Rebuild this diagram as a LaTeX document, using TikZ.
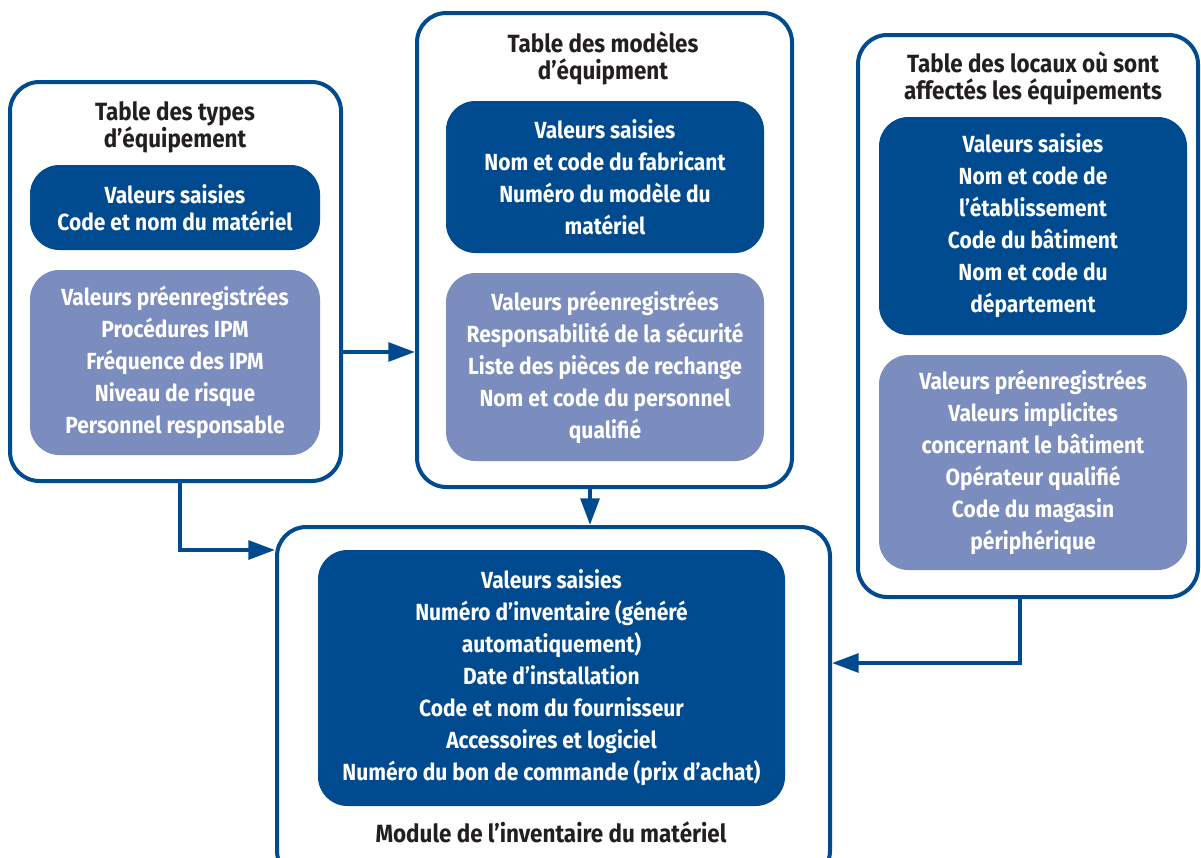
\documentclass[tikz,border=0pt]{standalone}
\usepackage{fontspec}
\setmainfont{Fira Sans}[FakeStretch=0.9]
\usetikzlibrary{arrows.meta}
\definecolor{darkblue}{RGB}{0,74,143}
\definecolor{lightblue}{RGB}{123,141,191}
\definecolor{titlegray}{RGB}{35,31,32}
\tikzset{
  outerbox/.style={draw=darkblue, line width=3pt, rounded corners=22pt, fill=white, inner sep=0pt},
  entrybox/.style={fill=darkblue, rounded corners=22pt, text=white, align=center, inner sep=0pt,
    font=\fontsize{17.5}{24}\selectfont\bfseries},
  presetbox/.style={entrybox, fill=lightblue},
  tabtitle/.style={text=titlegray, align=center, inner sep=0pt,
    font=\fontsize{18.7}{20.25}\selectfont\bfseries},
  arr/.style={draw=darkblue, line width=3pt, -{Triangle[length=20pt,width=14pt]}}
}
\begin{document}
\begin{tikzpicture}[x=0.75pt,y=0.75pt,yscale=-1,xscale=1]
\useasboundingbox (0,0) rectangle (1201,857);

%Outer boxes
\node [outerbox, minimum width=248.25pt, minimum height=299.25pt] (types) at (175.5,281.5) {};
\node [outerbox, minimum width=281.25pt, minimum height=355.5pt] (models) at (604.5,250) {};
\node [outerbox, minimum width=255pt, minimum height=421.5pt] (rooms) at (1028,316) {};
\node [outerbox, minimum width=414.75pt, minimum height=264.75pt] (module) at (553.5,703.5) {};

% Text Node
\node [tabtitle] (typesT) at (175,127) {Table des types\\d’équipement};
\node [tabtitle] (modelsT) at (603,58.5) {Table des modèles\\d’équipment};
\node [tabtitle] (roomsT) at (1033,78.5) {Table des locaux où sont\\affectés les équipements};
\node [tabtitle] (moduleT) at (551,832) {Module de l’inventaire du matériel};

%Entered values
\node [entrybox, minimum width=217.5pt, minimum height=63.75pt] (typesE) at (175,207.5)
  {Valeurs saisies\\[-3.5pt]Code et nom du matériel};
\node [entrybox, minimum width=238.5pt, minimum height=114pt] (modelsE) at (605,177)
  {Valeurs saisies\\Nom et code du fabricant\\Numéro du modèle du\\matériel};
\node [entrybox, minimum width=231pt, minimum height=163.5pt] (roomsE) at (1033,226)
  {Valeurs saisies\\Nom et code de\\l’établissement\\Code du bâtiment\\Nom et code du\\département};
\node [entrybox, minimum width=350.25pt, minimum height=192pt] (moduleE) at (551.5,678)
  {Valeurs saisies\\Numéro d’inventaire (généré\\automatiquement)\\Date d’installation\\Code et nom du fournisseur\\Accessoires et logiciel\\Numéro du bon de commande (prix d’achat)};

%Preset values
\node [presetbox, minimum width=217.5pt, minimum height=138.75pt] (typesP) at (175,362.5)
  {Valeurs préenregistrées\\Procédures IPM\\Fréquence des IPM\\Niveau de risque\\Personnel responsable};
\node [presetbox, minimum width=238.5pt, minimum height=141pt] (modelsP) at (605,367)
  {Valeurs préenregistrées\\Responsabilité de la sécurité\\Liste des pièces de rechange\\Nom et code du personnel\\qualifié};
\node [presetbox, minimum width=231pt, minimum height=161.25pt] (roomsP) at (1033,462.5)
  {Valeurs préenregistrées\\Valeurs implicites\\concernant le bâtiment\\Opérateur qualifié\\Code du magasin\\périphérique};

%Connectors
\coordinate (ab) at (341,352);
\coordinate (ad) at (180,550);
\coordinate (bd) at (590,0);
\coordinate (cd) at (1020,663);
\draw [arr] (types.east |- ab) -- (models.west |- ab);
\draw [arr] (types.south -| ad) |- (module.west |- ad);
\draw [arr] (models.south -| bd) -- (module.north -| bd);
\draw [arr] (rooms.south -| cd) |- (module.east |- cd);

\end{tikzpicture}
\end{document}
